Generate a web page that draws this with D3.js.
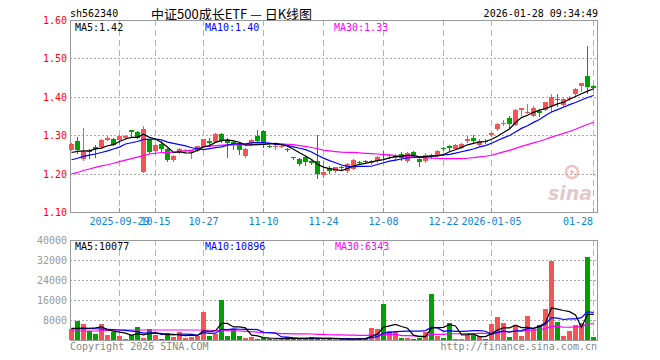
<!DOCTYPE html>
<html><head><meta charset="utf-8">
<script src="https://cdn.jsdelivr.net/npm/d3@7/dist/d3.min.js"></script>
<style>
body{margin:0;background:#fff}
svg{display:block}
text{font-family:"DejaVu Sans Mono",monospace;font-size:10px}
</style>
</head><body>
<svg id="c" width="660" height="360"></svg>
<script>
const dates=["2025-09-17","2025-09-18","2025-09-19","2025-09-22","2025-09-23","2025-09-24","2025-09-25","2025-09-26","2025-09-29","2025-09-30",
"2025-10-09","2025-10-10","2025-10-13","2025-10-14","2025-10-15","2025-10-16","2025-10-17","2025-10-20","2025-10-21","2025-10-22","2025-10-23","2025-10-24","2025-10-27","2025-10-28","2025-10-29","2025-10-30","2025-10-31",
"2025-11-03","2025-11-04","2025-11-05","2025-11-06","2025-11-07","2025-11-10","2025-11-11","2025-11-12","2025-11-13","2025-11-14","2025-11-17","2025-11-18","2025-11-19","2025-11-20","2025-11-21","2025-11-24","2025-11-25","2025-11-26","2025-11-27","2025-11-28",
"2025-12-01","2025-12-02","2025-12-03","2025-12-04","2025-12-05","2025-12-08","2025-12-09","2025-12-10","2025-12-11","2025-12-12","2025-12-15","2025-12-16","2025-12-17","2025-12-18","2025-12-19","2025-12-22","2025-12-23","2025-12-24","2025-12-25","2025-12-26","2025-12-29","2025-12-30","2025-12-31",
"2026-01-05","2026-01-06","2026-01-07","2026-01-08","2026-01-09","2026-01-12","2026-01-13","2026-01-14","2026-01-15","2026-01-16","2026-01-19","2026-01-20","2026-01-21","2026-01-22","2026-01-23","2026-01-26","2026-01-27","2026-01-28"];

const open=[1.262,1.284,1.239,1.260,1.269,1.268,1.288,1.291,1.288,1.293,
1.314,1.309,1.203,1.288,1.258,1.277,1.264,1.235,1.257,1.258,1.254,1.260,1.269,1.284,1.282,1.304,1.288,
1.281,1.280,1.247,1.280,1.297,1.312,1.273,1.269,1.271,1.264,1.242,1.239,1.242,1.234,1.232,1.197,1.215,1.206,1.216,1.206,
1.212,1.229,1.233,1.228,1.232,1.251,1.245,1.241,1.252,1.232,1.255,1.239,1.232,1.249,1.248,1.267,1.271,1.264,1.267,1.286,1.294,1.275,1.286,
1.300,1.317,1.332,1.346,1.327,1.366,1.358,1.351,1.364,1.366,1.377,1.395,1.379,1.395,1.407,1.427,1.455,1.427];
const high=[1.279,1.296,1.318,1.264,1.275,1.289,1.297,1.292,1.300,1.300,
1.314,1.310,1.325,1.290,1.276,1.284,1.267,1.249,1.267,1.265,1.262,1.272,1.291,1.293,1.305,1.305,1.293,
1.284,1.281,1.267,1.289,1.314,1.313,1.274,1.274,1.275,1.266,1.243,1.240,1.245,1.235,1.301,1.234,1.221,1.218,1.221,1.227,
1.239,1.234,1.236,1.235,1.245,1.258,1.251,1.251,1.255,1.255,1.258,1.241,1.254,1.252,1.261,1.269,1.275,1.277,1.279,1.297,1.301,1.291,1.291,
1.308,1.333,1.340,1.349,1.369,1.372,1.382,1.375,1.369,1.387,1.407,1.407,1.397,1.403,1.422,1.437,1.531,1.431];
const low=[1.261,1.254,1.236,1.241,1.243,1.268,1.287,1.274,1.280,1.291,
1.296,1.293,1.203,1.253,1.251,1.260,1.232,1.232,1.254,1.255,1.241,1.259,1.268,1.278,1.281,1.283,1.242,
1.264,1.252,1.244,1.275,1.281,1.269,1.270,1.265,1.268,1.260,1.238,1.223,1.223,1.224,1.189,1.190,1.202,1.205,1.210,1.205,
1.211,1.226,1.228,1.224,1.231,1.241,1.241,1.236,1.236,1.229,1.247,1.221,1.230,1.241,1.247,1.262,1.262,1.263,1.266,1.282,1.280,1.275,1.280,
1.299,1.314,1.326,1.320,1.327,1.353,1.358,1.351,1.349,1.365,1.362,1.375,1.377,1.391,1.405,1.414,1.410,1.421];
const close=[1.278,1.262,1.260,1.256,1.265,1.288,1.294,1.275,1.297,1.297,
1.309,1.294,1.317,1.255,1.275,1.264,1.236,1.245,1.264,1.262,1.261,1.271,1.290,1.280,1.304,1.284,1.280,
1.278,1.262,1.265,1.288,1.284,1.280,1.271,1.271,1.273,1.262,1.240,1.226,1.229,1.228,1.199,1.203,1.206,1.217,1.214,1.226,
1.236,1.228,1.229,1.234,1.243,1.249,1.249,1.245,1.241,1.254,1.249,1.229,1.249,1.245,1.258,1.265,1.267,1.275,1.277,1.291,1.284,1.284,1.282,
1.307,1.330,1.333,1.329,1.366,1.371,1.360,1.372,1.358,1.386,1.400,1.391,1.394,1.398,1.421,1.436,1.425,1.424];
const volume=[4270,7730,6270,3600,2400,6400,2000,3330,1600,530,
1870,5200,930,4400,2000,530,2800,1330,3330,930,1330,1600,11330,1600,2530,16130,1600,
4270,1600,800,1330,400,800,530,400,530,1070,670,530,400,1200,800,400,300,300,300,300,
400,900,900,4930,4530,14400,3600,3600,930,930,530,930,3330,18400,1600,930,6670,530,530,2130,2130,1600,530,
6400,9200,6800,1330,6000,1600,9600,4530,6000,12400,31730,7200,1600,3730,6000,6670,33330,1330];

// moving-average values for the first days (their windows start before the visible range)
const ma5Head=[1.255,1.258,1.259,1.259];
const ma10Head=[1.236,1.240,1.245,1.248,1.251,1.255,1.259,1.264,1.269];
const ma30Head=[1.199,1.203,1.208,1.212,1.216,1.220,1.223,1.227,1.231,1.235,1.239,1.243,1.247,1.251,1.253,1.255,1.255,1.256,1.258,1.259,1.261,1.264,1.270,1.271,1.273,1.274,1.275,1.275,1.275];
const vma5Head=[4670,4670,4800,4700];
const vma10Head=[4530,4530,4530,4530,4500,4400,4300,4200,4000];
const vma30Head=[3600,3600,3600,3600,3600,3700,3800,3900,4000,4000,4000,4000,4000,4000,4000,4000,4000,4000,4000,4000,4000,4000,3900,3900,3800,3800,3700,3700,3600];
const volLegend=[10077,10896,6343];

const priceTicks=[1.10,1.20,1.30,1.40,1.50,1.60];
const volTicks=[0,8000,16000,24000,32000,40000];
const xTickDates=["2025-09-29","2025-10-15","2025-10-27","2025-11-10","2025-11-24","2025-12-08","2025-12-22","2026-01-05","2026-01-28"];
const xTickLabels=["2025-09-29","10-15","10-27","11-10","11-24","12-08","12-22","2026-01-05","01-28"];

const RED="#f65454", GREEN="#00a000";
const svg=d3.select("#c");
const L=70,R=597,T1=20,B1=212,T2=240,B2=340;

const x=d3.scaleBand().domain(dates).range([68,596]).padding(0);
const cx=d=>x(d)+3.5;
const y=d3.scaleLinear().domain([1.10,1.60]).range([B1,T1]);
const yv=d3.scaleLinear().domain([0,40000]).range([B2,T2]);

function ma(arr,n,head){return arr.map((v,i)=>{ if(i<head.length) return head[i]; return d3.mean(arr.slice(i-n+1,i+1)); });}

// header texts
svg.append("text").attr("x",70).attr("y",17).text("sh562340");
svg.append("text").attr("x",151).attr("y",19).style("font-family","'Noto Sans CJK SC',sans-serif").style("font-size","13px").text("中证500成长ETF — 日K线图");
svg.append("text").attr("x",598).attr("y",17).attr("text-anchor","end").text("2026-01-28 09:34:49");

// grids
function grid(yScale,ticks,top,bottom,labelColor,fmt){
  const g=svg.append("g");
  ticks.forEach(t=>{
    const yy=Math.round(yScale(t))+0.5;
    if(yy>top+1 && yy<bottom-1) g.append("line").attr("x1",L).attr("x2",R).attr("y1",yy).attr("y2",yy).attr("stroke","#aaa").attr("stroke-dasharray","2,2");
  });
  xTickDates.forEach(d=>{
    g.append("line").attr("x1",cx(d)).attr("x2",cx(d)).attr("y1",top).attr("y2",bottom).attr("stroke","#b4b4b4").attr("stroke-dasharray","6,4");
  });
  g.append("rect").attr("x",L+0.5).attr("y",top+0.5).attr("width",R-L).attr("height",bottom-top).attr("fill","none").attr("stroke","#999");
  ticks.forEach(t=>{
    g.append("text").attr("x",67).attr("y",yScale(t)+4).attr("text-anchor","end").attr("fill",labelColor).text(fmt(t));
  });
}
grid(y,priceTicks,T1,B1,"#ff0000",d=>d.toFixed(2));
grid(yv,volTicks.filter(v=>v>0),T2,B2,"#999",d=>String(d));

// x tick marks and labels
xTickDates.forEach((d,i)=>{
  svg.append("line").attr("x1",cx(d)).attr("x2",cx(d)).attr("y1",B1-4).attr("y2",B1).attr("stroke","#999");
  const lab=xTickLabels[i];
  const w=lab.length*6.02;
  let xx=cx(d)-w/2; if(xx+w>593) xx=593-w;
  svg.append("text").attr("x",xx).attr("y",225).attr("fill","#0c84d8").text(lab);
});

// sina watermark
const wm=svg.append("g").attr("opacity",0.55);
wm.append("text").attr("x",548).attr("y",200).style("font-family","'DejaVu Sans',sans-serif").style("font-size","19px").style("font-weight","bold").style("font-style","italic").attr("fill","#c8a0a0").text("sina");
wm.append("circle").attr("cx",572).attr("cy",172).attr("r",6).attr("fill","none").attr("stroke","#e89090").attr("stroke-width",2.5);
wm.append("circle").attr("cx",572).attr("cy",172).attr("r",2).attr("fill","#e89090");

// candles
const data=dates.map((d,i)=>({d,o:open[i],h:high[i],l:low[i],c:close[i],v:volume[i]}));
const cg=svg.append("g").attr("shape-rendering","crispEdges");
data.forEach(k=>{
  const col=k.c>=k.o?RED:GREEN;
  cg.append("line").attr("x1",cx(k.d)).attr("x2",cx(k.d)).attr("y1",Math.round(y(k.h))).attr("y2",Math.round(y(k.l))+1).attr("stroke",col);
  const top=Math.round(y(Math.max(k.o,k.c))), bot=Math.round(y(Math.min(k.o,k.c)));
  cg.append("rect").attr("x",x(k.d)+1).attr("y",top).attr("width",5).attr("height",Math.max(1,bot-top)).attr("fill",col);
});

// volume bars
data.forEach(k=>{
  const col=k.c>=k.o?RED:GREEN;
  const top=Math.round(yv(k.v));
  cg.append("rect").attr("x",x(k.d)+1).attr("y",top).attr("width",5).attr("height",Math.max(1,B2-top)).attr("fill",col);
});

// MA lines
function drawLine(vals,scale,color){
  svg.append("path").datum(vals).attr("fill","none").attr("stroke",color).attr("stroke-width",1.2)
    .attr("d",d3.line().x((v,i)=>cx(dates[i])).y(v=>scale(v)));
}
const m5=ma(close,5,ma5Head), m10=ma(close,10,ma10Head), m30=ma(close,30,ma30Head);
drawLine(m30,y,"#ff00ff"); drawLine(m10,y,"#0000ff"); drawLine(m5,y,"#000");
const v5=ma(volume,5,vma5Head), v10=ma(volume,10,vma10Head), v30=ma(volume,30,vma30Head);
drawLine(v30,yv,"#ff00ff"); drawLine(v10,yv,"#0000ff"); drawLine(v5,yv,"#000");

// legends
const n=dates.length-1;
svg.append("text").attr("x",75).attr("y",31).attr("fill","#000").text("MA5:"+m5[n].toFixed(2));
svg.append("text").attr("x",205).attr("y",31).attr("fill","#0000ff").text("MA10:"+m10[n].toFixed(2));
svg.append("text").attr("x",334).attr("y",31).attr("fill","#ff00ff").text("MA30:"+m30[n].toFixed(2));
svg.append("text").attr("x",75).attr("y",250).attr("fill","#000").text("MA5:"+volLegend[0]);
svg.append("text").attr("x",205).attr("y",250).attr("fill","#0000ff").text("MA10:"+volLegend[1]);
svg.append("text").attr("x",335).attr("y",250).attr("fill","#ff00ff").text("MA30:"+volLegend[2]);

// footer
svg.append("text").attr("x",70).attr("y",350).attr("fill","#888").text("Copyright 2026 SINA.COM");
svg.append("text").attr("x",597).attr("y",350).attr("text-anchor","end").attr("fill","#888").text("http://finance.sina.com.cn");
</script>
</body></html>
